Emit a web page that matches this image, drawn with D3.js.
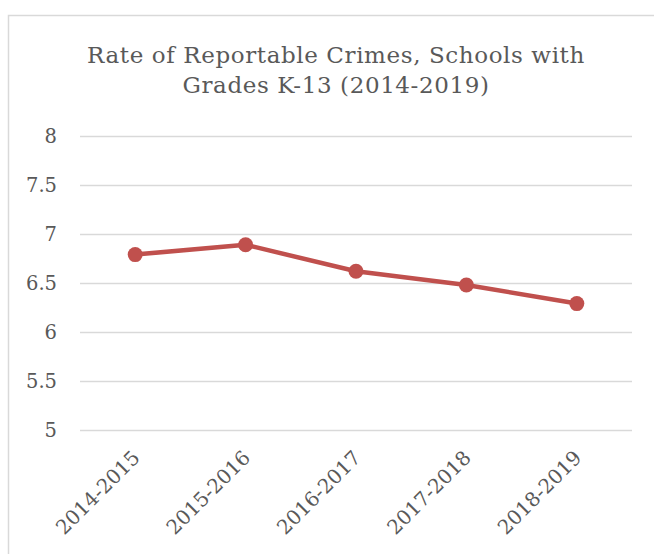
<!DOCTYPE html>
<html>
<head>
<meta charset="utf-8">
<script src="https://cdn.jsdelivr.net/npm/d3@7"></script>
<style>
  html, body { margin: 0; padding: 0; background: #fff; }
  svg { display: block; }
  text { font-family: "DejaVu Serif", "Liberation Serif", serif; fill: #595959; }
</style>
</head>
<body>
<script>
const categories = ["2014-2015", "2015-2016", "2016-2017", "2017-2018", "2018-2019"];
const values = [6.79, 6.89, 6.62, 6.48, 6.29];
const yTicks = [5, 5.5, 6, 6.5, 7, 7.5, 8];
const titleLines = ["Rate of Reportable Crimes, Schools with", "Grades K-13 (2014-2019)"];

const W = 654, H = 554;
const svg = d3.select("body").append("svg").attr("width", W).attr("height", H);

svg.append("rect").attr("x", 8.5).attr("y", 15.5).attr("width", 700).attr("height", 600)
  .attr("fill", "#fff").attr("stroke", "#d9d9d9").attr("stroke-width", 1.5);

const x = d3.scalePoint().domain(categories).range([80, 632]).padding(0.5);
const y = d3.scaleLinear().domain([5, 8]).range([430, 136]);

// title
svg.append("g").selectAll("text").data(titleLines).join("text")
  .attr("x", 336).attr("y", (d, i) => 63 + i * 30)
  .attr("text-anchor", "middle").attr("font-size", 23).attr("letter-spacing", 0.6)
  .text(d => d);

// gridlines
svg.append("g").selectAll("line").data(yTicks).join("line")
  .attr("x1", 80).attr("x2", 632)
  .attr("y1", d => Math.round(y(d)) + 0.5).attr("y2", d => Math.round(y(d)) + 0.5)
  .attr("stroke", "#d9d9d9").attr("stroke-width", 1.5);

// y axis labels
svg.append("g").selectAll("text").data(yTicks).join("text")
  .attr("x", 57).attr("y", d => y(d))
  .attr("dy", "0.36em").attr("text-anchor", "end").attr("font-size", 19.5)
  .text(d => d);

// x labels
svg.append("g").selectAll("text").data(categories).join("text")
  .attr("transform", d => `translate(${x(d) - 4},${449}) rotate(-45)`)
  .attr("text-anchor", "end").attr("dy", "0.7em").attr("font-size", 20)
  .text(d => d);

// line
const line = d3.line().x((d, i) => x(categories[i])).y(d => y(d));
svg.append("path").datum(values).attr("d", line)
  .attr("fill", "none").attr("stroke", "#c0504d").attr("stroke-width", 4.5)
  .attr("stroke-linejoin", "round");

svg.append("g").selectAll("circle").data(values).join("circle")
  .attr("cx", (d, i) => x(categories[i])).attr("cy", d => y(d)).attr("r", 7.5)
  .attr("fill", "#c0504d");
</script>
</body>
</html>
